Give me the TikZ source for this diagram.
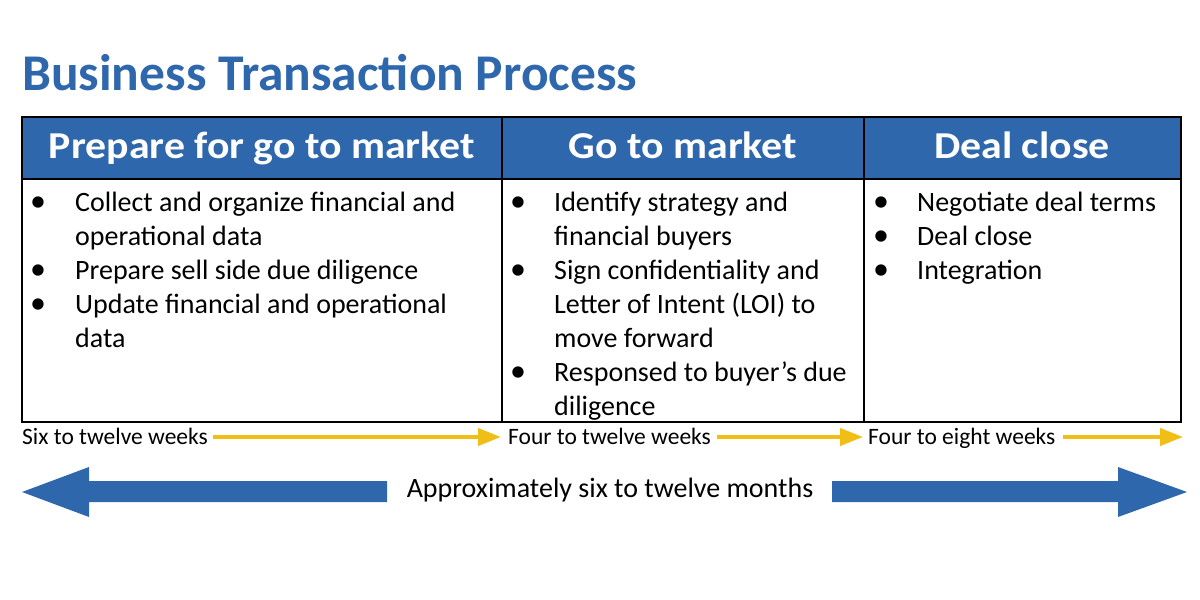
\documentclass[tikz,border=0pt]{standalone}
\usepackage{fontspec}
\setmainfont{Carlito}
\usetikzlibrary{arrows.meta}
\definecolor{hdrblue}{HTML}{2F67AD}
\definecolor{gold}{HTML}{F0BE14}
\tikzset{
  body/.style={anchor=base west, inner sep=0pt, font=\fontsize{28}{34}\selectfont},
  bul/.style={anchor=base, inner sep=0pt, font=\fontsize{32}{34}\selectfont},
  hdr/.style={anchor=base, inner sep=0pt, text=white, xscale=1.1, font=\fontsize{38}{46}\selectfont\bfseries},
  lbl/.style={anchor=base west, inner sep=0pt, font=\fontsize{23.5}{28}\selectfont},
  goldarrow/.style={draw=gold, line width=4pt, -{Triangle[length=23pt,width=17pt]}},
  bluearrow/.style={fill=hdrblue, draw=none},
  grid/.style={draw=black, line width=2pt}
}
\begin{document}
\begin{tikzpicture}[x=1pt,y=-1pt]
\useasboundingbox (0,0) rectangle (1200,600);
% title
\node[anchor=base west, inner sep=0pt, text=hdrblue, font=\fontsize{51.5}{60}\selectfont\bfseries] (title) at (22,90) {Business Transaction Process};
% header band
\fill[hdrblue] (22,117) rectangle (1181,179);
\draw[grid] (22,117) rectangle (1181,422);
\draw[grid] (22,179) -- (1181,179);
\draw[grid] (502,117) -- (502,422);
\draw[grid] (864,117) -- (864,422);
\node[hdr] (h1) at (262,158) {Prepare for go to market};
\node[hdr] (h2) at (683,158) {Go to market};
\node[hdr] (h3) at (1022,158) {Deal close};
% column 1
\node[bul] (b11) at (38,211) {\textbullet};
\node[body] (t11) at (75,211) {Collect and organize financial and};
\node[body] (t12) at (75,245) {operational data};
\node[bul] (b12) at (38,279) {\textbullet};
\node[body] (t13) at (75,279) {Prepare sell side due diligence};
\node[bul] (b13) at (38,313) {\textbullet};
\node[body] (t14) at (75,313) {Update financial and operational};
\node[body] (t15) at (75,347) {data};
% column 2
\node[bul] (b21) at (518,211) {\textbullet};
\node[body] (t21) at (554,211) {Identify strategy and};
\node[body] (t22) at (554,245) {financial buyers};
\node[bul] (b22) at (518,279) {\textbullet};
\node[body] (t23) at (554,279) {Sign confidentiality and};
\node[body] (t24) at (554,313) {Letter of Intent (LOI) to};
\node[body] (t25) at (554,347) {move forward};
\node[bul] (b23) at (518,381) {\textbullet};
\node[body] (t26) at (554,381) {Responsed to buyer’s due};
\node[body] (t27) at (554,415) {diligence};
% column 3
\node[bul] (b31) at (881,211) {\textbullet};
\node[body] (t31) at (917,211) {Negotiate deal terms};
\node[bul] (b32) at (881,245) {\textbullet};
\node[body] (t32) at (917,245) {Deal close};
\node[bul] (b33) at (881,279) {\textbullet};
\node[body] (t33) at (917,279) {Integration};
% duration labels
\node[lbl] (l1) at (22,444) {Six to twelve weeks};
\node[lbl] (l2) at (508,444) {Four to twelve weeks};
\node[lbl] (l3) at (868,444) {Four to eight weeks};
\coordinate (e1) at (501,437);
\coordinate (e2) at (863,437);
\coordinate (e3) at (1183,437);
\draw[goldarrow] (213,437) -- (e1);
\draw[goldarrow] (717,437) -- (e2);
\draw[goldarrow] (1063,437) -- (e3);
% total duration
\node[anchor=base, inner sep=0pt, font=\fontsize{28}{34}\selectfont] (total) at (610,497) {Approximately six to twelve months};
\fill[bluearrow] (387,481) -- (89,481) -- (89,467) -- (22,492) -- (89,517) -- (89,502) -- (387,502) -- cycle;
\fill[bluearrow] (832,481) -- (1118,481) -- (1118,467) -- (1187,492) -- (1118,517) -- (1118,502) -- (832,502) -- cycle;
\end{tikzpicture}
\end{document}
